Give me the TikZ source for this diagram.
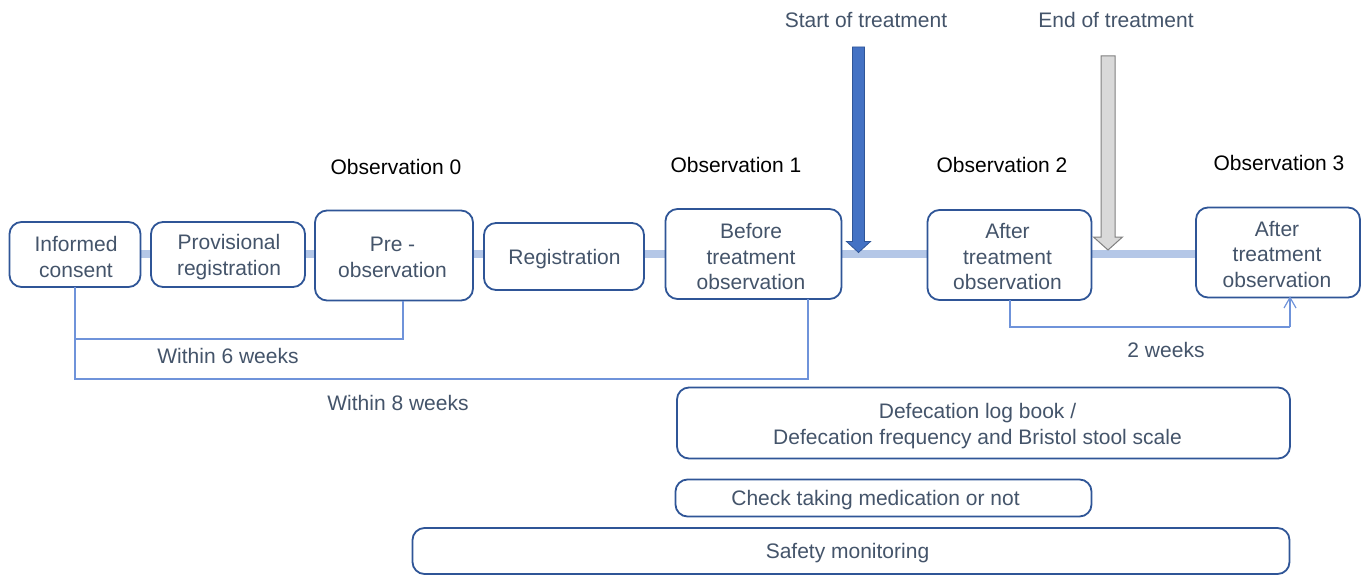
\documentclass[tikz,border=0pt]{standalone}
\usepackage{fontspec}
\setmainfont{Liberation Sans}
\definecolor{boxline}{HTML}{2F5597}
\definecolor{boxtext}{HTML}{44546A}
\definecolor{tline}{HTML}{B4C7E7}
\definecolor{brk}{HTML}{6F93DA}
\definecolor{bluefill}{HTML}{4472C4}
\definecolor{grayfill}{HTML}{D9D9D9}
\definecolor{grayline}{HTML}{808080}
\begin{document}
\begin{tikzpicture}[x=1pt,y=-1pt,
  every node/.style={font=\fontsize{21}{25.5}\selectfont, inner sep=0pt, outer sep=0pt},
  stagebox/.style={draw=boxline, line width=1.8pt, rounded corners=12pt, fill=white},
  boxlabel/.style={align=center, text=boxtext},
  obslabel/.style={text=black},
  notelabel/.style={text=boxtext},
  bracket/.style={draw=brk, line width=1.2pt},
  timeline/.style={draw=tline, line width=8pt}]
\useasboundingbox (0,0) rectangle (1365,575);
\fill[white] (0,0) rectangle (1365,575);

% timeline
\coordinate (tl0) at (140,253.5);
\coordinate (tl1) at (1196,253.5);
\draw[timeline] (tl0) -- (tl1);

% stage boxes
\node[stagebox, minimum width=131pt, minimum height=65pt] (ic) at (75,254.5) {};
\node[stagebox, minimum width=154pt, minimum height=65pt] (pr) at (228,254.5) {};
\node[stagebox, minimum width=158pt, minimum height=90pt] (po) at (394,255.5) {};
\node[stagebox, minimum width=160pt, minimum height=67pt] (rg) at (564,256.5) {};
\node[stagebox, minimum width=176pt, minimum height=90pt] (bt) at (753.5,254) {};
\node[stagebox, minimum width=164pt, minimum height=90pt] (a2) at (1009.5,255) {};
\node[stagebox, minimum width=164pt, minimum height=90pt] (a3) at (1278,252.5) {};

\node[boxlabel] (ict) at ([shift={(1,2.5)}]ic.center) {Informed\\consent};
\node[boxlabel] (prt) at ([shift={(1,2.5)}]pr.center) {Provisional\\registration};
\node[boxlabel] (pot) at ([shift={(-1.5,2)}]po.center) {Pre -\\observation};
\node[boxlabel] (rgt) at ([shift={(0.5,2.5)}]rg.center) {Registration};
\node[boxlabel] (btt) at ([shift={(-2.5,3)}]bt.center) {Before\\treatment\\observation};
\node[boxlabel] (a2t) at ([shift={(-2,2)}]a2.center) {After\\treatment\\observation};
\node[boxlabel] (a3t) at ([shift={(-1,2)}]a3.center) {After\\treatment\\observation};

% observation labels
\node[obslabel] (o0) at (396,167) {Observation 0};
\node[obslabel] (o1) at (736,165) {Observation 1};
\node[obslabel] (o2) at (1002,165) {Observation 2};
\node[obslabel] (o3) at (1279,163) {Observation 3};

% treatment labels and arrows
\node[notelabel] (st) at (866,20) {Start of treatment};
\node[notelabel] (et) at (1116,20) {End of treatment};
\draw[draw=boxline, fill=bluefill, line width=0.8pt]
  (852.5,47) -- (864.5,47) -- (864.5,241.5) -- (870.5,241.5) -- (858.5,252.5)
  -- (846.5,241.5) -- (852.5,241.5) -- cycle;
\draw[draw=grayline, fill=grayfill, line width=1pt]
  (1101,56) -- (1115,56) -- (1115,237) -- (1122.5,237) -- (1108,250)
  -- (1093.5,237) -- (1101,237) -- cycle;

% brackets
\coordinate (b6l) at (75,339);
\coordinate (b6r) at (403,339);
\coordinate (b8l) at (75,379);
\coordinate (b8r) at (808,379);
\draw[bracket] (ic.south -| b6l) -- (b8l) -- (b8r) -- (b8r |- bt.south);
\draw[bracket] (b6l) -- (b6r) -- (b6r |- po.south);
\node[notelabel] (w6) at (228,356) {Within 6 weeks};
\node[notelabel] (w8) at (398,403) {Within 8 weeks};

\coordinate (b2l) at (1010,327);
\coordinate (b2r) at (1290,327);
\draw[bracket] (a2.south -| b2l) -- (b2l) -- (b2r);
\draw[bracket] (b2r) -- (b2r |- a3.south);
\draw[bracket] (1284,308) -- (b2r |- a3.south) -- (1296,308);
\node[notelabel] (w2) at (1166,350) {2 weeks};

% bottom boxes
\node[stagebox, minimum width=613pt, minimum height=71pt] (df) at (983.5,423) {};
\node[stagebox, minimum width=416pt, minimum height=37pt] (cm) at (883.5,498) {};
\node[stagebox, minimum width=877pt, minimum height=46pt] (sm) at (851,551) {};
\node[boxlabel] (dft) at ([shift={(-6,3)}]df.center) {Defecation log book /\\Defecation frequency and Bristol stool scale};
\node[boxlabel] (cmt) at ([shift={(-8,2.5)}]cm.center) {Check taking medication or not};
\node[boxlabel] (smt) at ([shift={(-3.5,2.5)}]sm.center) {Safety monitoring};
\end{tikzpicture}
\end{document}
